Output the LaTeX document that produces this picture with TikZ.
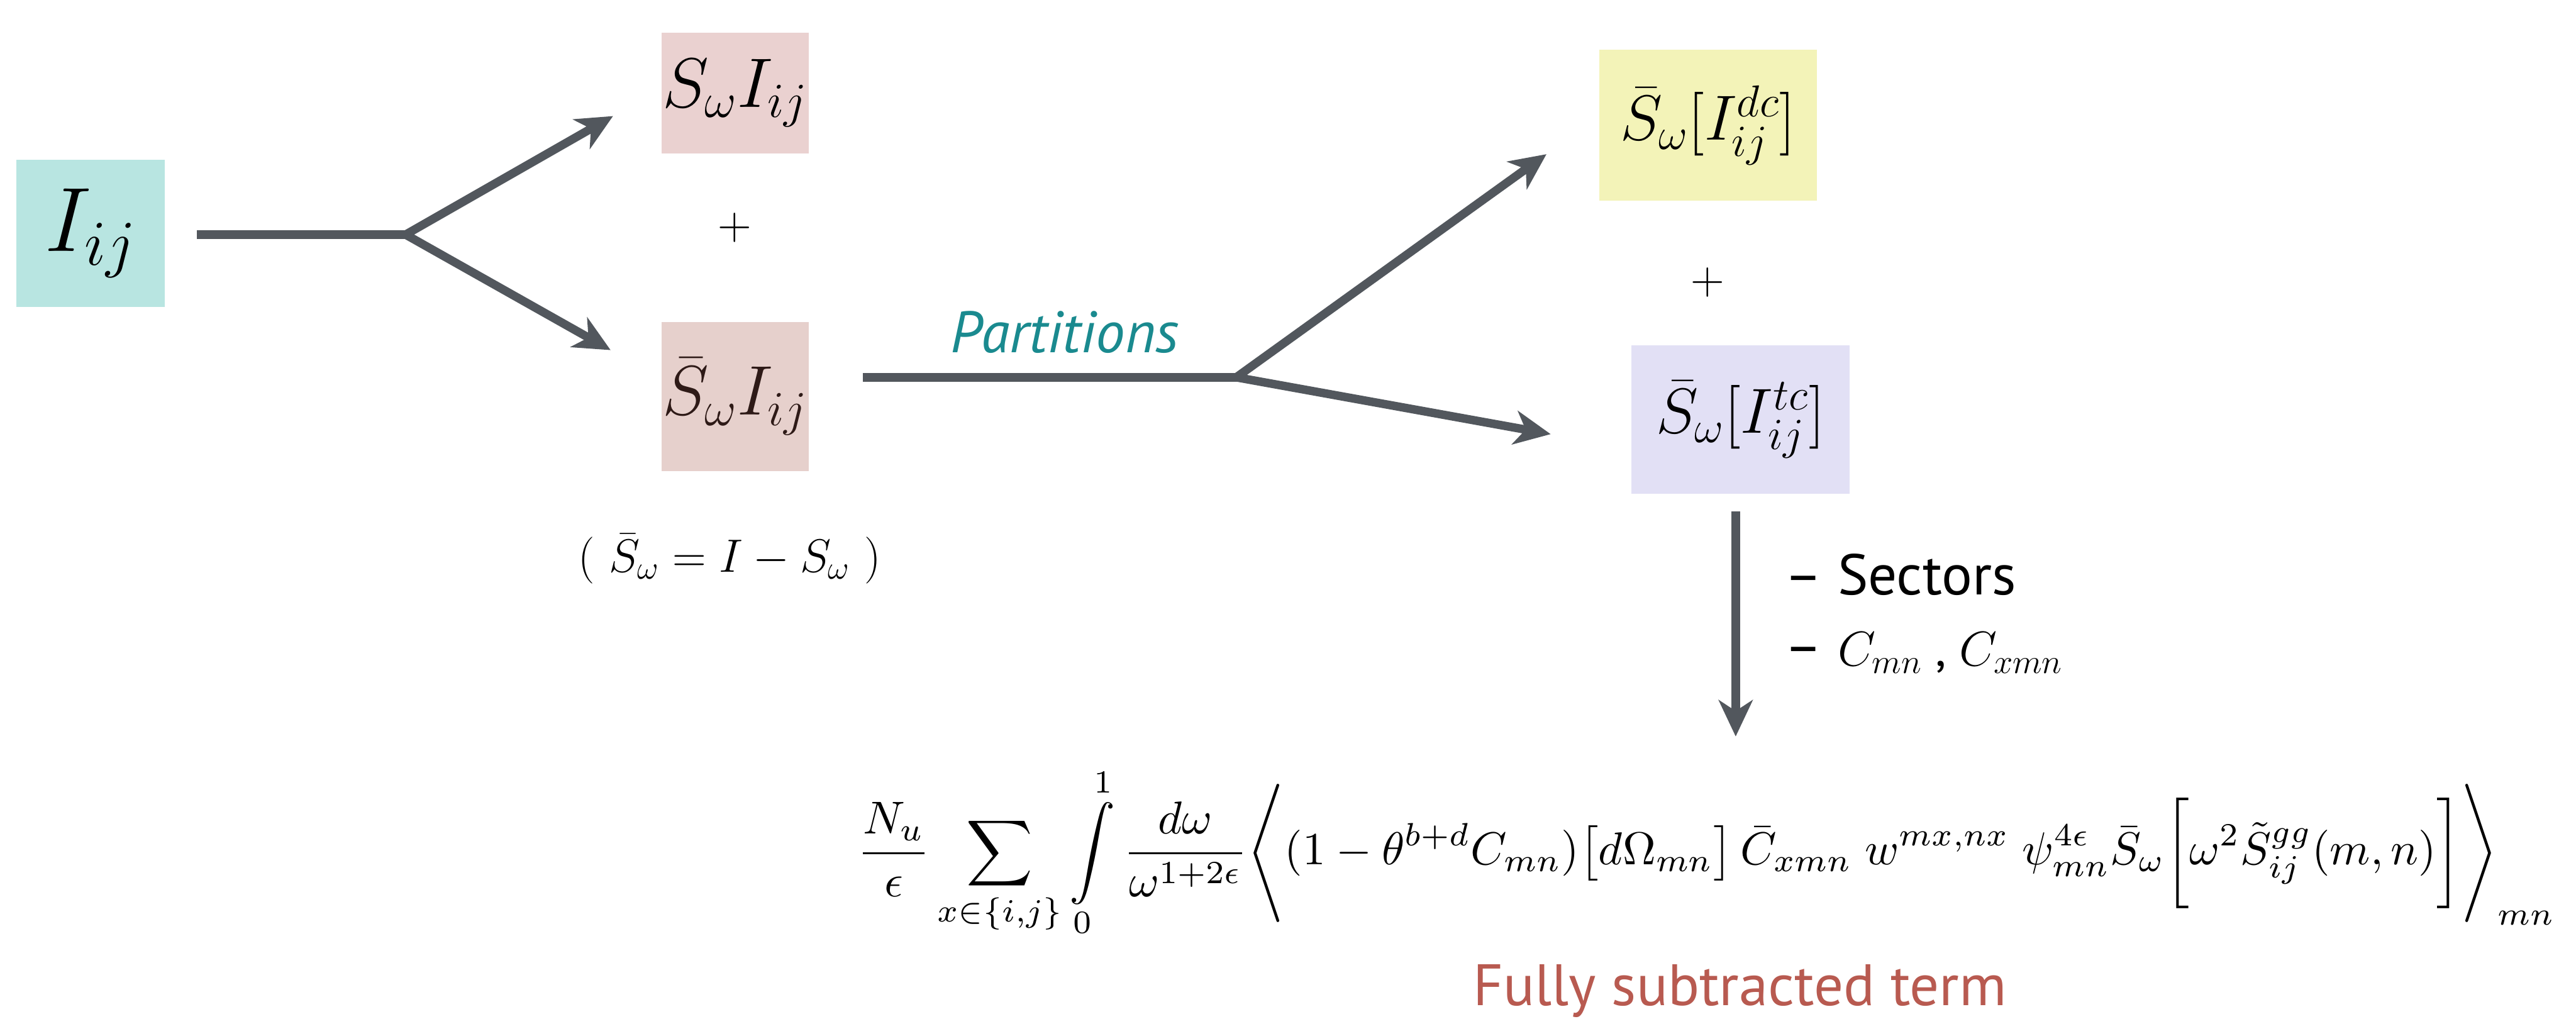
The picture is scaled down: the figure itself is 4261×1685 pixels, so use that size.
\RequirePackage{fix-cm}
\documentclass[tikz,border=0pt]{standalone}
\usepackage{amsmath,amssymb}
\usepackage{graphicx}
\usepackage{fontspec}
\newfontfamily\lab{PT Sans}
\usetikzlibrary{arrows.meta}
\definecolor{boxteal}{HTML}{B8E5E1}
\definecolor{boxpink}{HTML}{EAD1D0}
\definecolor{boxpinkb}{HTML}{E6D0CC}
\definecolor{boxyellow}{HTML}{F3F3B8}
\definecolor{boxlav}{HTML}{E2E0F5}
\definecolor{arrowgray}{HTML}{52575D}
\definecolor{teallab}{HTML}{1A8A8F}
\definecolor{rustlab}{HTML}{B85A50}
\definecolor{darkbrown}{HTML}{2E1A17}
\begin{document}
\begin{tikzpicture}[x=0.01cm,y=-0.01cm,
  termbox/.style={inner sep=0pt, anchor=center},
  conn/.style={draw=arrowgray, line width=0.14cm, line cap=butt, line join=miter},
  tipped/.style={conn, -{Stealth[length=0.6cm,width=0.56cm,inset=0.18cm]}},
  plusmark/.style={inner sep=0pt, font=\fontsize{22}{26}\selectfont},
  sanslab/.style={inner sep=0pt, font=\lab\fontsize{27}{32}\selectfont}
]
\useasboundingbox (0,0) rectangle (4261,1685);

% boxes
\node[termbox, fill=boxteal, minimum width=2.45cm, minimum height=2.44cm] (Iij) at (150,386)
  {\fontsize{43}{50}\selectfont$I_{ij}$};
\node[termbox, fill=boxpink, minimum width=2.43cm, minimum height=1.99cm] (SI) at (1216,154)
  {\fontsize{33}{40}\selectfont$S_{\omega}I_{ij}$};
\node[termbox, fill=boxpinkb, minimum width=2.44cm, minimum height=2.46cm] (SbI) at (1216,656)
  {\fontsize{33}{40}\selectfont\color{darkbrown}$\bar S_{\omega}I_{ij}$};
\node[plusmark] (plusA) at (1215,377) {$+$};
\node[inner sep=0pt, font=\fontsize{22}{26}\selectfont] (defn) at (1207,924)
  {$(\ \bar S_{\omega} = I - S_{\omega}\ )$};

\node[termbox, fill=boxyellow, minimum width=3.6cm, minimum height=2.5cm] (Sdc) at (2825,207)
  {\fontsize{30}{36}\selectfont$\bar S_{\omega}[I^{dc}_{ij}]$};
\node[termbox, fill=boxlav, minimum width=3.6cm, minimum height=2.45cm] (Stc) at (2879,694)
  {\fontsize{30}{36}\selectfont$\bar S_{\omega}[I^{tc}_{ij}]$};
\node[plusmark] (plusB) at (2825,467) {$+$};

% first split
\coordinate (s1) at (326,388);
\coordinate (b1) at (671,388);
\coordinate (t1u) at (1014,192);
\coordinate (t1d) at (1010,579);
\draw[conn] (s1) -- (b1);
\draw[tipped] (b1) -- (t1u);
\draw[tipped] (b1) -- (t1d);

% partitions split
\coordinate (s2) at (1427,624);
\coordinate (b2) at (2045,624);
\coordinate (t2u) at (2558,255);
\coordinate (t2d) at (2565,718);
\draw[conn] (s2) -- (b2);
\draw[tipped] (b2) -- (t2u);
\draw[tipped] (b2) -- (t2d);
\node[inner sep=0pt, text=teallab, font=\lab\itshape\fontsize{27.5}{32}\selectfont] (parts) at (1761,549) {Partitions};

% down arrow
\coordinate (s3) at (2871,846);
\coordinate (t3) at (2871,1218);
\draw[tipped] (s3) -- (t3);
\node[sanslab, anchor=west] (sect) at (2951,950) {– Sectors};
\node[sanslab, anchor=west] (cmn) at (2951,1080) {– \fontsize{23}{28}\selectfont$C_{mn}$ , $C_{xmn}$};

% formula
\node[inner sep=0pt] (formula) at (2823,1410) {\resizebox{28.07cm}{!}{$\displaystyle
  \frac{N_u}{\epsilon}\sum_{x\in\{i,j\}}\int\limits_0^1\frac{d\omega}{\omega^{1+2\epsilon}}
  \Bigg\langle(1-\theta^{b+d}C_{mn})\big[d\Omega_{mn}\big]\,\bar C_{xmn}\;w^{mx,nx}\;
  \psi^{4\epsilon}_{mn}\bar S_{\omega}\bigg[\omega^2\tilde S^{gg}_{ij}(m,n)\bigg]\Bigg\rangle_{mn}$}};
\node[inner sep=0pt, text=rustlab, font=\lab\fontsize{27.5}{33}\selectfont] (fst) at (2878,1639) {Fully subtracted term};
\end{tikzpicture}
\end{document}
